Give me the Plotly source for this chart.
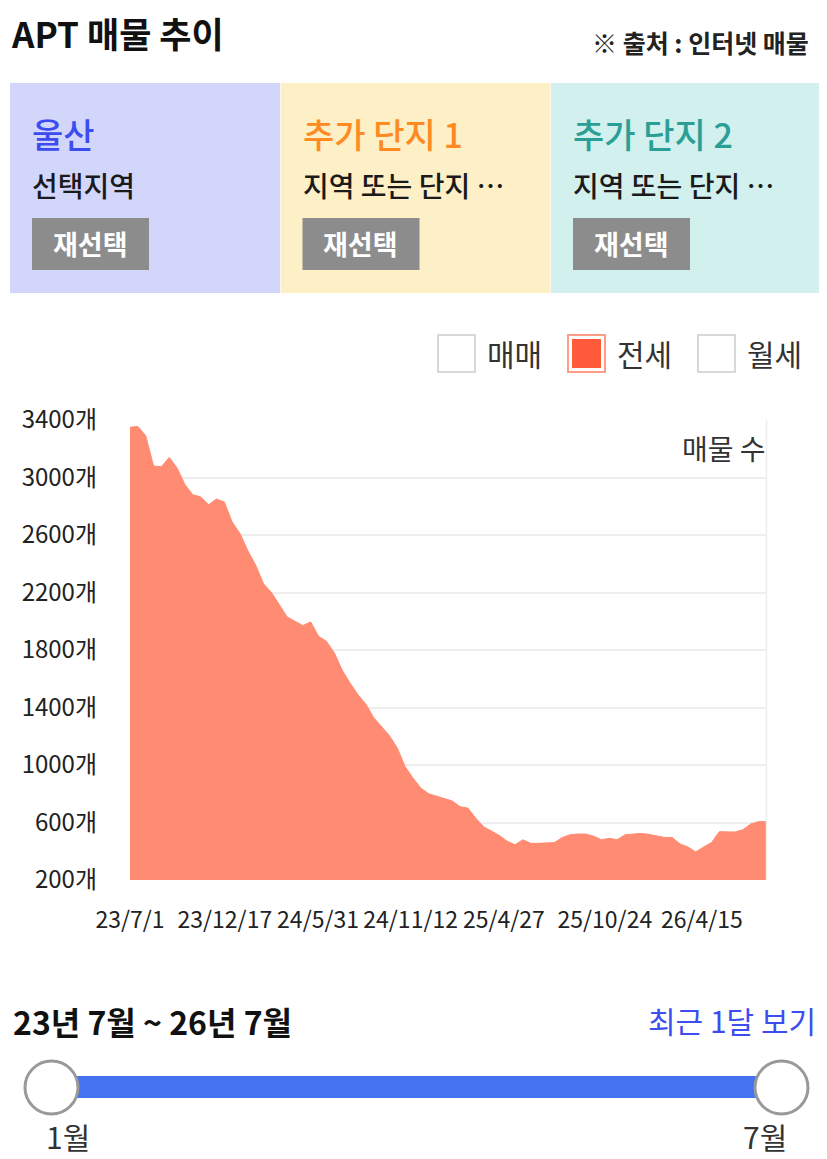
import pandas as pd
import plotly.graph_objects as go

W, H = 827, 1159
OFF = 8  # page body margin
FONT = "Noto Sans CJK KR"

# 전세 매물 수 (2023-07-01부터 14일 간격으로 읽은 값)
jeonse = [3350, 3355, 3290, 3080, 3075, 3140, 3065, 2950, 2880, 2865,
          2810, 2850, 2830, 2690, 2610, 2490, 2390, 2260, 2200, 2110,
          2030, 2000, 1970, 1995, 1895, 1860, 1780, 1660, 1570, 1490,
          1425, 1330, 1270, 1205, 1120, 990, 910, 840, 800, 785,
          765, 750, 710, 700, 630, 570, 540, 510, 470, 445,
          480, 455, 455, 455, 460, 495, 515, 520, 520, 505,
          480, 490, 480, 515, 522, 524, 518, 508, 496, 496,
          450, 430, 395, 430, 460, 536, 536, 534, 550, 590,
          606, 606]
dates = pd.date_range("2023-07-01", periods=len(jeonse), freq="14D")

tick_dates = ["2023-07-01", "2023-12-17", "2024-05-31", "2024-11-12",
              "2025-04-27", "2025-10-24", "2026-04-15"]
tick_labels = ["23/7/1", "23/12/17", "24/5/31", "24/11/12",
               "25/4/27", "25/10/24", "26/4/15"]
y_ticks = [200, 600, 1000, 1400, 1800, 2200, 2600, 3000, 3400]
y_labels = [f"{v}개" for v in y_ticks]

cards = ["울산", "추가 단지 1", "추가 단지 2"]
card_subs = ["선택지역", "지역 또는 단지 …", "지역 또는 단지 …"]
card_colors = ["#D3D6FB", "#FDEFC6", "#D1F0EE"]
card_title_colors = ["#3C4CF0", "#FF8A22", "#2B9E96"]
legend_items = ["매매", "전세", "월세"]


def px(x):
    return (x - OFF) / W


def py(y):
    return 1 - (y - OFF) / H


fig = go.Figure()
fig.add_trace(go.Scatter(
    x=dates, y=jeonse, mode="lines", fill="tozeroy",
    line=dict(color="#FF8B72", width=1), fillcolor="#FF8B72",
    hoverinfo="skip", showlegend=False,
))

shapes = []
ann = []


def text(x, y, s, size, color="#222", anchor="left", bold=False, weight=None):
    font = dict(family=FONT, size=size, color=color)
    if weight:
        font["weight"] = weight
    ann.append(dict(x=px(x), y=py(y), xref="paper", yref="paper",
                    text=f"<b>{s}</b>" if bold else s, showarrow=False,
                    xanchor=anchor, yanchor="middle", font=font))


def rect(x0, y0, x1, y1, fill, line=None, lw=0, kind="rect"):
    shapes.append(dict(type=kind, xref="paper", yref="paper",
                       x0=px(x0), x1=px(x1), y0=py(y1), y1=py(y0),
                       fillcolor=fill, line=dict(color=line or fill, width=lw),
                       layer="above"))


# header
text(9, 33, "APT 매물 추이", 35, "#111", bold=True)
text(590, 42, "※ 출처 : 인터넷 매물", 25, "#222", bold=True)

# cards
for i, name in enumerate(cards):
    x0 = 10 + i * 270.5
    rect(x0, 83, x0 + 270, 293, card_colors[i])
    text(x0 + 20, 133, name, 34, card_title_colors[i], weight=500)
    text(x0 + 20, 185, card_subs[i], 28, "#1a1a1a", weight=500)
    rect(x0 + 22, 218, x0 + 139, 270, "#8C8C8C")
    text(x0 + 80, 243, "재선택", 27, "white", anchor="center", bold=True)

# legend
for i, name in enumerate(legend_items):
    bx = 438 + i * 130
    if name == "전세":
        rect(bx, 335, bx + 37, 372, "white", "#FF9C88", 2)
        rect(bx + 4, 339, bx + 33, 368, "#FF5A3A")
    else:
        rect(bx, 335, bx + 37, 372, "white", "#CCCCCC", 1.5)
    text(bx + 47, 353, name, 30, "#333")

text(768, 448, "매물 수", 28, "#333", anchor="right")

# right border of plot
shapes.append(dict(type="line", xref="paper", yref="paper",
                   x0=px(766.5), x1=px(766.5), y0=py(880), y1=py(420),
                   line=dict(color="#EEEEEE", width=1.5)))

# period + slider
text(11, 1021, "23년 7월 ~ 26년 7월", 32, "#111", bold=True)
text(818, 1020, "최근 1달 보기", 30, "#3C4EF0", anchor="right")
rect(60, 1076, 770, 1098, "#4572EE")
rect(25, 1061, 78, 1114, "white", "#999999", 3, kind="circle")
rect(755, 1061, 808, 1114, "white", "#999999", 3, kind="circle")
text(68, 1136, "1월", 30, "#333", anchor="center")
text(765, 1136, "7월", 30, "#333", anchor="center")

fig.update_layout(
    width=W, height=H, autosize=False,
    margin=dict(l=0, r=0, t=0, b=0),
    paper_bgcolor="white", plot_bgcolor="white",
    shapes=shapes, annotations=ann,
    xaxis=dict(type="date", domain=[px(130), px(766.5)],
               range=[dates[0], dates[-1]],
               tickvals=tick_dates, ticktext=tick_labels, tickangle=0,
               showgrid=False, zeroline=False, showline=False,
               automargin=False, ticklabelstandoff=24,
               tickfont=dict(family=FONT, size=23, color="#222")),
    yaxis=dict(domain=[py(880), py(420)], range=[200, 3400],
               tickvals=y_ticks, ticktext=y_labels,
               showgrid=True, gridcolor="#EEEEEE", gridwidth=1.5,
               zeroline=False, showline=False,
               automargin=False, ticklabelstandoff=32,
               tickfont=dict(family=FONT, size=24, color="#222")),
)

fig.write_html("out.html")
